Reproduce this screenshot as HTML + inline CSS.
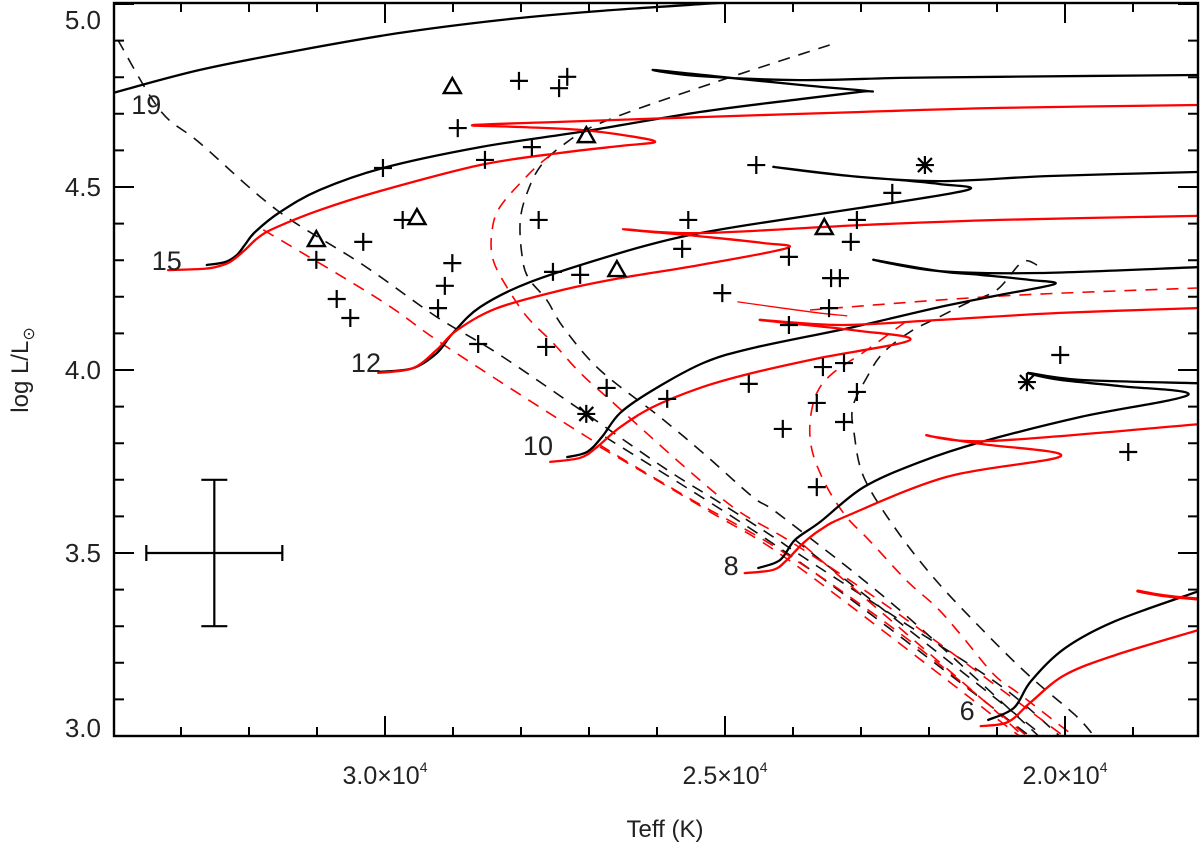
<!DOCTYPE html>
<html><head><meta charset="utf-8"><style>
html,body{margin:0;padding:0;background:#fff}
svg{display:block}
text{font-family:"Liberation Sans",Arial,sans-serif;fill:#222}
</style></head><body>
<svg id="chart" width="1200" height="848" viewBox="0 0 1200 848" xmlns="http://www.w3.org/2000/svg">
<defs><clipPath id="pc"><rect x="114" y="3" width="1084" height="733"/></clipPath></defs>
<g id="plot" clip-path="url(#pc)"></g>
<g id="axes"></g>
<text x="665" y="837" text-anchor="middle" font-size="24">Teff (K)</text>
<text transform="translate(28,370) rotate(-90)" text-anchor="middle" font-size="24">log L/L<tspan dy="6" font-size="16">⊙</tspan></text>
</svg>
<script>
// ---- data (Teff in kK, log L) ----
const xTickValues=[30,25,20];
const xTickLabels=["3.0","2.5","2.0"];
const yTickValues=[5.0,4.5,4.0,3.5,3.0];
const yTickLabels=["5.0","4.5","4.0","3.5","3.0"];

const trk19B=[[34.00,4.757],[32.72,4.820],[31.25,4.874],[29.78,4.921],[28.31,4.956],[26.84,4.981],[25.07,5.003],[24.5,5.01]];
const trk15B=[[32.62,4.287],[32.35,4.295],[32.18,4.314],[32.06,4.342],[31.91,4.377],[31.54,4.432],[30.96,4.492],[30.03,4.552],[28.60,4.609],[27.04,4.653],[25.37,4.705],[23.90,4.740],[23.01,4.760],[22.90,4.762],[23.90,4.779],[25.07,4.801],[26.06,4.820],[25.37,4.803],[23.90,4.792],[22.43,4.798],[20.96,4.801],[18.06,4.806]];
const trk15R=[[33.19,4.273],[32.72,4.276],[32.50,4.281],[32.28,4.295],[32.06,4.328],[31.87,4.361],[31.62,4.388],[30.96,4.437],[30.07,4.489],[28.60,4.560],[27.43,4.593],[26.54,4.612],[26.03,4.623],[26.40,4.639],[27.13,4.656],[28.01,4.664],[28.71,4.669],[27.43,4.678],[25.37,4.691],[23.01,4.705],[20.96,4.716],[18.06,4.724]];
const trk12B=[[30.07,3.995],[29.59,4.005],[29.24,4.046],[29.00,4.101],[28.60,4.172],[27.87,4.240],[26.54,4.320],[25.66,4.363],[24.68,4.396],[23.01,4.443],[21.43,4.492],[21.84,4.508],[22.43,4.519],[23.16,4.530],[24.29,4.555],[23.16,4.530],[21.84,4.516],[20.22,4.530],[18.06,4.541]];
const trk12R=[[30.10,3.992],[29.59,4.005],[29.24,4.055],[28.94,4.109],[28.35,4.169],[27.38,4.219],[26.54,4.251],[25.37,4.287],[24.09,4.333],[24.44,4.347],[25.41,4.366],[26.50,4.385],[25.37,4.374],[23.01,4.396],[20.96,4.410],[18.06,4.421]];
const trk10B=[[27.32,3.762],[27.03,3.776],[26.81,3.817],[26.54,3.883],[26.06,3.945],[25.32,4.019],[24.59,4.060],[23.12,4.117],[21.84,4.172],[20.96,4.205],[20.15,4.235],[20.51,4.246],[21.25,4.260],[21.84,4.270],[22.82,4.301],[21.84,4.270],[20.37,4.265],[18.06,4.281]];
const trk10R=[[27.57,3.749],[27.13,3.760],[26.88,3.790],[26.54,3.844],[26.06,3.899],[25.32,3.954],[24.59,3.992],[23.60,4.033],[22.28,4.082],[23.12,4.109],[24.49,4.137],[23.31,4.123],[21.84,4.137],[20.07,4.156],[18.06,4.169]];
const trk8B=[[24.51,3.459],[24.19,3.481],[23.97,3.536],[23.60,3.585],[22.96,3.680],[22.13,3.749],[21.24,3.803],[19.76,3.872],[18.19,3.932],[19.19,3.956],[20.07,3.973],[20.54,3.992],[19.78,3.973],[18.06,3.964]];
const trk8R=[[24.71,3.445],[24.29,3.454],[24.09,3.481],[23.85,3.527],[23.60,3.563],[23.21,3.601],[21.74,3.708],[20.06,3.765],[21.24,3.798],[22.04,3.822],[21.10,3.806],[18.03,3.852]];
const trk6B=[[21.13,3.044],[20.75,3.077],[20.50,3.150],[20.00,3.240],[19.26,3.314],[18.03,3.396]];
const trk6R=[[21.24,3.027],[20.84,3.038],[20.50,3.093],[20.00,3.167],[19.26,3.221],[18.03,3.290]];
const trk6Rloop=[[18.93,3.396],[18.53,3.383],[18.03,3.374]];
const thinRed=[[24.81,4.186],[23.71,4.158],[23.21,4.148]];

const dashB1=[[33.93,4.902],[33.31,4.710],[32.72,4.620],[31.59,4.437],[30.32,4.287],[29.24,4.145],[28.35,4.046],[27.04,3.880],[25.85,3.727],[25.07,3.637],[24.29,3.544],[23.85,3.489],[22.43,3.317],[20.96,3.139],[20.06,2.997]];
const dashB2=[[23.46,4.888],[25.18,4.784],[26.79,4.678],[27.38,4.615],[27.72,4.555],[27.91,4.484],[28.01,4.410],[27.99,4.320],[27.90,4.254],[27.62,4.191],[27.38,4.117],[26.84,4.000],[25.96,3.872],[25.32,3.773],[24.59,3.653],[24.15,3.598],[22.43,3.344],[20.37,2.997]];
const dashB3=[[20.41,4.287],[20.63,4.295],[21.00,4.219],[21.44,4.183],[21.88,4.142],[22.28,4.104],[22.68,4.046],[22.91,3.981],[23.12,3.899],[23.10,3.825],[22.96,3.708],[22.51,3.571],[21.93,3.432],[21.24,3.295],[20.54,3.167],[19.85,3.057],[19.56,2.997]];
const dashB10=[[26.76,3.817],[23.90,3.475],[20.50,2.997]];
const dashB8=[[23.97,3.536],[20.30,2.997]];
const dashR15=[[31.79,4.383],[30.07,4.191],[29.09,4.063],[27.03,3.817],[25.56,3.653],[24.19,3.508],[22.43,3.281],[20.54,2.997]];
const dashR2=[[27.57,4.587],[27.87,4.538],[28.31,4.445],[28.43,4.374],[28.41,4.301],[28.21,4.227],[27.91,4.145],[27.53,4.074],[27.13,3.992],[26.69,3.918],[25.66,3.746],[24.82,3.617],[24.00,3.527],[22.43,3.331],[20.00,2.997]];
const dashR10=[[26.84,3.790],[25.26,3.617],[23.90,3.459],[20.65,2.997]];
const dashR8=[[23.85,3.522],[20.85,3.040],[20.72,2.997]];
const dashR3=[[22.35,4.131],[22.91,4.055],[23.41,3.992],[23.65,3.937],[23.75,3.855],[23.71,3.773],[23.50,3.680],[23.21,3.598],[22.87,3.533],[22.32,3.423],[21.88,3.350],[21.53,3.276],[21.04,3.167],[20.65,3.112],[19.85,2.997]];
const dashRh=[[23.75,4.164],[20.96,4.202],[18.06,4.224]];

const plusT=[28.03,27.32,27.44,28.93,27.84,28.53,30.03,29.74,27.74,30.32,31.01,29.01,29.12,30.71,29.22,30.51,27.53,27.13,28.63,27.63,26.74,24.54,22.54,25.54,23.06,23.15,25.63,24.06,23.44,23.31,25.04,23.47,24.06,23.56,23.25,24.65,25.85,23.06,23.65,23.25,24.15,23.65,20.07,19.07];
const plusL=[4.790,4.801,4.770,4.661,4.609,4.574,4.552,4.410,4.410,4.350,4.301,4.292,4.230,4.194,4.169,4.142,4.268,4.260,4.071,4.063,3.951,4.560,4.484,4.410,4.410,4.350,4.331,4.309,4.251,4.251,4.210,4.169,4.123,4.008,4.019,3.962,3.921,3.940,3.910,3.858,3.839,3.680,4.041,3.776];
const triT=[29.01,27.04,29.53,31.01,26.59,23.54];
const triL=[4.773,4.639,4.415,4.355,4.273,4.388];
const starT=[22.06,27.04,20.56];
const starL=[4.560,3.880,3.967];

const massLabels=["19","15","12","10","8","6"];
const massLabelT=[33.51,33.21,30.28,27.75,24.91,21.44];
const massLabelL=[4.727,4.301,4.022,3.795,3.467,3.071];

const errT=32.51, errL=3.5, errDT=1.0, errDL=0.2;

// ---- axis functions ----
const X0=114,X1=1198,Y0=3,Y1=736;
function xs(T){return 385+(30-T)*68;}
function ys(L){return 187-(L-4.5)*366;}

const NS="http://www.w3.org/2000/svg";
const plot=document.getElementById('plot');
const axes=document.getElementById('axes');
function mk(tag,attrs,parent){const e=document.createElementNS(NS,tag);for(const k in attrs)e.setAttribute(k,attrs[k]);parent.appendChild(e);return e;}
function smoothD(pts){
  const P=pts.map(p=>[xs(p[0]),ys(p[1])]);
  let d='M'+P[0][0].toFixed(1)+' '+P[0][1].toFixed(1);
  for(let i=0;i<P.length-1;i++){
    const p0=P[Math.max(0,i-1)],p1=P[i],p2=P[i+1],p3=P[Math.min(P.length-1,i+2)];
    const c1=[p1[0]+(p2[0]-p0[0])/6,p1[1]+(p2[1]-p0[1])/6];
    const c2=[p2[0]-(p3[0]-p1[0])/6,p2[1]-(p3[1]-p1[1])/6];
    d+=`C${c1[0].toFixed(1)} ${c1[1].toFixed(1)} ${c2[0].toFixed(1)} ${c2[1].toFixed(1)} ${p2[0].toFixed(1)} ${p2[1].toFixed(1)}`;
  }
  return d;
}

function line(pts,color,dash,w,name){
  const e=mk('path',{d:smoothD(pts),fill:'none',stroke:color,'stroke-width':w,'stroke-linejoin':'round','stroke-linecap':'round'},plot);
  if(dash){e.setAttribute('stroke-dasharray',dash);e.setAttribute('stroke-linecap','butt');}
  
  
}
const D='12 9';
line(dashB1,'#111',D,1.6,'isochrone-black-1');
line(dashB2,'#111',D,1.6,'isochrone-black-2');
line(dashB3,'#111',D,1.6,'isochrone-black-3');
line(dashB10,'#111',D,1.6,'zams-line-black-10');
line(dashB8,'#111',D,1.6,'zams-line-black-8');
line(dashR15,'#f00',D,1.6,'isochrone-red-1');
line(dashR2,'#f00',D,1.6,'isochrone-red-2');
line(dashR10,'#f00',D,1.6,'zams-line-red-10');
line(dashR8,'#f00',D,1.6,'zams-line-red-8');
line(dashR3,'#f00',D,1.6,'isochrone-red-3');
line(dashRh,'#f00',D,1.6,'isochrone-red-4');
line(thinRed,'#f00',null,1.3,'red-thin-segment');
line(trk19B,'#000',null,2.3,'track-19-black');
line(trk15B,'#000',null,2.3,'track-15-black');
line(trk15R,'#f00',null,2.3,'track-15-red');
line(trk12B,'#000',null,2.3,'track-12-black');
line(trk12R,'#f00',null,2.3,'track-12-red');
line(trk10B,'#000',null,2.3,'track-10-black');
line(trk10R,'#f00',null,2.3,'track-10-red');
line(trk8B,'#000',null,2.3,'track-8-black');
line(trk8R,'#f00',null,2.3,'track-8-red');
line(trk6B,'#000',null,2.3,'track-6-black');
line(trk6R,'#f00',null,2.3,'track-6-red');
line(trk6Rloop,'#f00',null,3.2,'track-6-red-loop');

// markers
for(let i=0;i<plusT.length;i++){
  const x=xs(plusT[i]),y=ys(plusL[i]);
  const e=mk('path',{d:`M${x-9} ${y}H${x+9}M${x} ${y-9}V${y+9}`,stroke:'#000','stroke-width':2.2,fill:'none'},plot);
  
  
}
for(let i=0;i<triT.length;i++){
  const x=xs(triT[i]),y=ys(triL[i]);
  const e=mk('path',{d:`M${x} ${y-9}L${x+8.5} ${y+6}L${x-8.5} ${y+6}Z`,stroke:'#000','stroke-width':2.4,fill:'none'},plot);
  
  
}
for(let i=0;i<starT.length;i++){
  const x=xs(starT[i]),y=ys(starL[i]);
  const e=mk('path',{d:`M${x-9} ${y}H${x+9}M${x} ${y-9}V${y+9}M${x-7} ${y-7}L${x+7} ${y+7}M${x-7} ${y+7}L${x+7} ${y-7}`,stroke:'#000','stroke-width':2.2,fill:'none'},plot);
  
  
}
// mass labels
for(let i=0;i<massLabels.length;i++){
  const t=mk('text',{x:xs(massLabelT[i]),y:ys(massLabelL[i])+10,'text-anchor':'middle','font-size':27},plot);
  t.textContent=massLabels[i];
  
  
}
// error bar
{
  const cx=xs(errT),cy=ys(errL),xl=xs(errT+errDT),xr=xs(errT-errDT),yt=ys(errL+errDL),yb=ys(errL-errDL);
  const e=mk('path',{d:`M${xl} ${cy}H${xr}M${xl} ${cy-8}V${cy+8}M${xr} ${cy-8}V${cy+8}M${cx} ${yt}V${yb}M${cx-13} ${yt}H${cx+13}M${cx-13} ${yb}H${cx+13}`,stroke:'#000','stroke-width':2.2,fill:'none'},axes);
  
  
}
// frame
{
  const f=mk('rect',{x:X0,y:Y0,width:X1-X0,height:Y1-Y0,fill:'none',stroke:'#000','stroke-width':2.4},axes);
  
  
}
// x ticks
for(let T=34;T>=18;T-=1){
  const x=xs(T); if(x<X0+1||x>X1-1)continue;
  const major=(T%5===0), len=major?20:9;
  const e=mk('path',{d:`M${x} ${Y1}V${Y1-len}M${x} ${Y0}V${Y0+len}`,stroke:'#000','stroke-width':2},axes);
  
  
}
for(let i=0;i<xTickValues.length;i++){
  const x=xs(xTickValues[i]);
  const t=mk('text',{x:x,y:784,'text-anchor':'middle','font-size':25},axes);
  t.innerHTML=xTickLabels[i]+'×10<tspan dy="-12" font-size="14">4</tspan>';
  
  
}
// y ticks
for(let k=30;k<=50;k++){
  const L=k/10, y=ys(L); if(y<Y0+1||y>Y1-1)continue;
  const major=(k%5===0), len=major?20:10;
  const e=mk('path',{d:`M${X0} ${y}H${X0+len}M${X1} ${y}H${X1-len}`,stroke:'#000','stroke-width':2},axes);
  
  
}
for(let i=0;i<yTickValues.length;i++){
  let y=ys(yTickValues[i])+9;
  if(yTickValues[i]>=5.0)y=29; if(yTickValues[i]<=3.0)y=737;
  const t=mk('text',{x:101,y:y,'text-anchor':'end','font-size':26},axes);
  t.textContent=yTickLabels[i];
  
  
}
</script>
</body></html>
